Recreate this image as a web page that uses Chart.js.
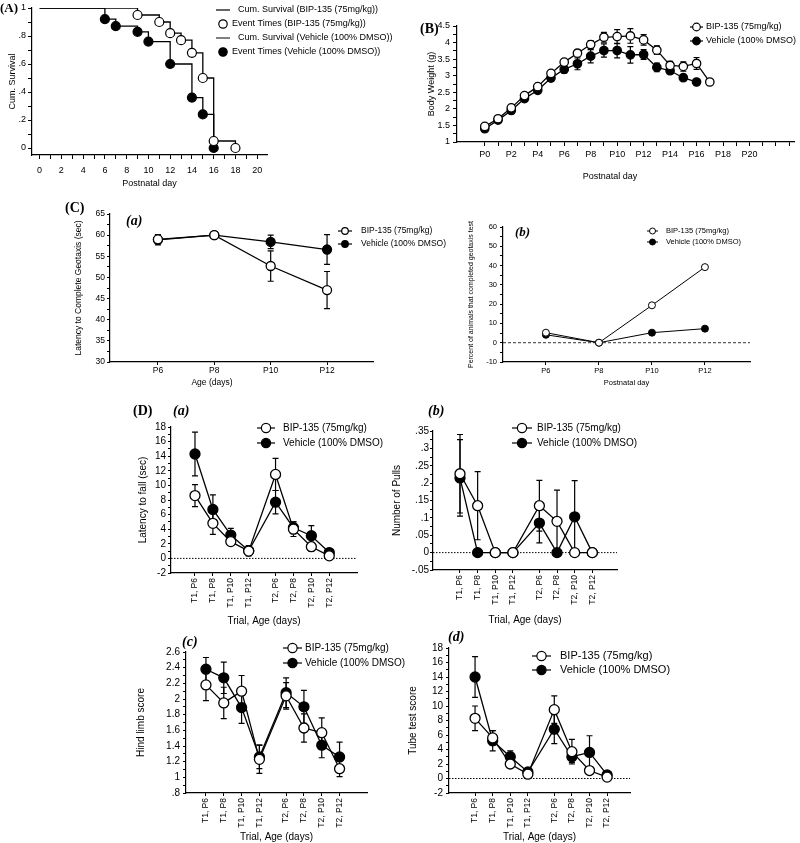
<!DOCTYPE html>
<html><head><meta charset="utf-8">
<script src="https://cdn.jsdelivr.net/npm/chart.js@4.4.1/dist/chart.umd.min.js"></script>
<style>
html,body{margin:0;padding:0;background:#fff;}
#wrap{position:relative;width:800px;height:843px;overflow:hidden;background:#fff;}
#wrap canvas{position:absolute;left:0;top:0;width:800px;height:843px;}
</style></head>
<body><div id="wrap">
<canvas id="cA" width="800" height="843"></canvas>
<canvas id="cB" width="800" height="843"></canvas>
<canvas id="cCa" width="800" height="843"></canvas>
<canvas id="cCb" width="800" height="843"></canvas>
<canvas id="cDa" width="800" height="843"></canvas>
<canvas id="cDb" width="800" height="843"></canvas>
<canvas id="cDc" width="800" height="843"></canvas>
<canvas id="cDd" width="800" height="843"></canvas>
</div>
<script>
// ---------------- DATA ----------------
const LBL_BIP = 'BIP-135 (75mg/kg)';
const LBL_VEH = 'Vehicle (100% DMSO)';

// (A) Kaplan-Meier survival
const kmBipDays = [0, 9, 11, 12, 13, 14, 15, 16, 18];
const kmBipSurv = [1, 0.95, 0.90, 0.82, 0.77, 0.68, 0.50, 0.05, 0];
const kmVehDays = [0, 6, 7, 9, 10, 12, 14, 15, 16];
const kmVehSurv = [1, 0.92, 0.87, 0.83, 0.76, 0.60, 0.36, 0.24, 0];

// (B) Body weight
const bwBipDays = [0, 1, 2, 3, 4, 5, 6, 7, 8, 9, 10, 11, 12, 13, 14, 15, 16, 17];
const bwBip     = [1.47, 1.70, 2.03, 2.40, 2.67, 3.07, 3.41, 3.68, 3.94, 4.16, 4.18, 4.20, 4.08, 3.77, 3.31, 3.28, 3.37, 2.81];
const bwBipErr  = [0.04, 0.04, 0.05, 0.05, 0.06, 0.07, 0.08, 0.10, 0.12, 0.15, 0.21, 0.22, 0.16, 0.13, 0.12, 0.14, 0.18, 0];
const bwVehDays = [0, 1, 2, 3, 4, 5, 6, 7, 8, 9, 10, 11, 12, 13, 14, 15, 16];
const bwVeh     = [1.40, 1.66, 1.95, 2.31, 2.56, 2.93, 3.19, 3.36, 3.59, 3.76, 3.76, 3.63, 3.64, 3.25, 3.15, 2.94, 2.81];
const bwVehErr  = [0.04, 0.05, 0.06, 0.07, 0.08, 0.09, 0.11, 0.18, 0.20, 0.20, 0.22, 0.25, 0.15, 0.13, 0.06, 0.07, 0.05];

// (C) Geotaxis
const geoDays   = [6, 8, 10, 12];
const geoBip    = [59.0, 60.0, 52.7, 47.0];
const geoBipErr = [1.0, 0, 3.6, 4.4];
const geoVeh    = [58.9, 60.0, 58.4, 56.6];
const geoVehErr = [1.2, 0, 1.6, 3.5];
const pctBip    = [5.2, 0, 19.4, 39.2];
const pctVeh    = [4.1, 0, 5.2, 7.3];

// (D) Trials
const dCats = ['T1, P6', 'T1, P8', 'T1, P10', 'T1, P12', 'T2, P6', 'T2, P8', 'T2, P10', 'T2, P12'];
const latBip     = [8.6, 4.8, 2.3, 1.0, 11.5, 4.0, 1.6, 0.35];
const latBipErr  = [1.5, 1.5, 0.5, 0.5, 2.2, 1.0, 0.6, 0.3];
const latVeh     = [14.3, 6.7, 3.2, 1.05, 7.7, 4.2, 3.1, 0.8];
const latVehErr  = [3.0, 2.0, 0.9, 0.7, 1.6, 0.8, 1.4, 0.3];
const pullBip    = [0.227, 0.135, 0, 0, 0.135, 0.09, 0, 0];
const pullBipErr = [0.113, 0.098, 0, 0, 0.073, 0.09, 0, 0];
const pullVeh    = [0.215, 0, 0, 0, 0.085, 0, 0.103, 0];
const pullVehErr = [0.11, 0, 0, 0, 0.057, 0, 0.104, 0];
const hindBip    = [2.18, 1.95, 2.10, 1.23, 2.04, 1.63, 1.57, 1.11];
const hindBipErr = [0.2, 0.2, 0.2, 0.18, 0.17, 0.18, 0.19, 0.1];
const hindVeh    = [2.38, 2.27, 1.89, 1.26, 2.08, 1.90, 1.41, 1.26];
const hindVehErr = [0.15, 0.2, 0.2, 0.15, 0.19, 0.21, 0.16, 0.19];
const tubeBip    = [8.3, 5.6, 2.0, 0.6, 9.5, 3.7, 1.1, 0.2];
const tubeBipErr = [1.7, 1.0, 0.4, 0.3, 1.9, 1.7, 0.4, 0.2];
const tubeVeh    = [14.0, 5.2, 3.0, 0.9, 6.8, 3.0, 3.6, 0.5];
const tubeVehErr = [2.8, 1.4, 0.8, 0.3, 2.0, 0.8, 2.3, 0.2];

// ---------------- HELPERS ----------------
Chart.defaults.font.family = "'Liberation Sans', Arial, sans-serif";
Chart.defaults.color = '#000';
const SERIF = "'Liberation Serif', 'Times New Roman', serif";

function range(a, b, s) { const out = []; const n = Math.round((b - a) / s); for (let k = 0; k <= n; k++) out.push(+(a + k * s).toFixed(6)); return out; }
function fmtDec(v) { let s = String(+(+v).toFixed(3)); return s.replace(/^0\./, '.').replace(/^-0\./, '-.'); }
// category positions: second trial block is shifted to leave a gap
const dPos = dCats.map((c, i) => i + (c.startsWith('T2') ? 0.5 : 0));
function pts(xs, ys) { return ys.map((y, i) => ({ x: xs[i], y })); }

const errorBarPlugin = {
  id: 'errbars',
  beforeDatasetsDraw(chart) {
    const ctx = chart.ctx, ys = chart.scales.y;
    chart.data.datasets.forEach((ds, di) => {
      if (!ds.errors) return;
      const meta = chart.getDatasetMeta(di);
      ctx.save(); ctx.strokeStyle = '#000'; ctx.lineWidth = ds.errWidth || 1.2;
      ds.data.forEach((p, i) => {
        const e = ds.errors[i]; if (!e) return;
        const px = meta.data[i].x, t = ys.getPixelForValue(p.y + e), b = ys.getPixelForValue(p.y - e), c = ds.capHalf || 3;
        ctx.beginPath();
        ctx.moveTo(px, t); ctx.lineTo(px, b);
        ctx.moveTo(px - c, t); ctx.lineTo(px + c, t);
        ctx.moveTo(px - c, b); ctx.lineTo(px + c, b);
        ctx.stroke();
      });
      ctx.restore();
    });
  }
};
const refLinePlugin = {
  id: 'refLine',
  beforeDatasetsDraw(chart, args, o) {
    if (!o || o.value == null) return;
    const ctx = chart.ctx, a = chart.chartArea, y = chart.scales.y.getPixelForValue(o.value);
    ctx.save(); ctx.strokeStyle = '#000'; ctx.lineWidth = o.lw || 1; ctx.setLineDash(o.dash || [2, 2]);
    ctx.beginPath(); ctx.moveTo(a.left, y); ctx.lineTo(a.right, y); ctx.stroke(); ctx.restore();
  }
};
const decorPlugin = {
  id: 'decor',
  afterDraw(chart, args, o) {
    const ctx = chart.ctx;
    ctx.save();
    (o.labels || []).forEach(l => {
      ctx.font = l.font; ctx.fillStyle = '#000'; ctx.textBaseline = 'middle'; ctx.textAlign = l.align || 'left';
      ctx.fillText(l.text, l.x, l.y);
    });
    (o.legend || []).forEach(it => {
      const ds = chart.data.datasets[it.ds];
      ctx.strokeStyle = '#000'; ctx.lineWidth = it.lw || 1.2; ctx.setLineDash([]);
      if (it.line) { ctx.beginPath(); ctx.moveTo(it.line[0], it.y); ctx.lineTo(it.line[1], it.y); ctx.stroke(); }
      if (it.mx != null) { ctx.beginPath(); ctx.arc(it.mx, it.y, it.r || 4, 0, Math.PI * 2); ctx.fillStyle = ds.pointBackgroundColor; ctx.fill(); ctx.stroke(); }
      ctx.fillStyle = '#000'; ctx.font = o.font; ctx.textAlign = 'left'; ctx.textBaseline = 'middle';
      ctx.fillText(ds.label, it.tx, it.y);
    });
    ctx.restore();
  }
};

function axis(o, isX) {
  return {
    type: 'linear', position: isX ? 'bottom' : 'left', min: o.min, max: o.max,
    afterBuildTicks: s => { s.ticks = o.ticks.map(v => ({ value: v })); },
    afterFit: s => { if (isX) s.height = o.size; else s.width = o.size; },
    ticks: { autoSkip: false, maxRotation: o.rot || 0, minRotation: o.rot || 0, padding: o.pad, color: '#000',
             font: { size: o.fs }, callback: (v, i) => o.fmt(v, i) },
    grid: { display: true, drawOnChartArea: false, drawTicks: true, tickLength: o.tl, tickColor: '#000', tickWidth: 1 },
    border: { display: true, color: '#000', width: 1.2 },
    title: { display: o.title != null, text: o.title || '', color: '#000', font: { size: o.tfs }, padding: { top: o.tpad || 0, bottom: o.tpad || 0 } }
  };
}
function makeChart(id, c) {
  const pad = { left: c.area.l - c.y.size, top: c.area.t, right: 800 - c.area.r, bottom: 843 - c.area.b - c.x.size };
  return new Chart(document.getElementById(id), {
    type: 'scatter',
    data: { datasets: c.datasets },
    options: {
      responsive: false, animation: false, devicePixelRatio: 1, events: [],
      layout: { padding: pad },
      plugins: { legend: { display: false }, tooltip: { enabled: false }, decor: c.decor, refLine: c.refLine || {} },
      scales: { x: axis(c.x, true), y: axis(c.y, false) }
    },
    plugins: [errorBarPlugin, refLinePlugin, decorPlugin]
  });
}
function series(label, data, errs, filled, r, lw, extra) {
  return Object.assign({ label, data, errors: errs, showLine: true, borderColor: '#000', borderWidth: lw,
    pointRadius: r, pointHoverRadius: r, pointBackgroundColor: filled ? '#000' : '#fff', pointBorderColor: '#000',
    pointBorderWidth: lw, capHalf: 3 }, extra || {});
}

// ---------------- (A) ----------------
makeChart('cA', {
  area: { l: 32, t: 8, r: 267, b: 155 },
  x: { min: -0.7, max: 20.9, ticks: range(0, 20, 1), fmt: v => (v % 2 === 0 ? String(v) : ''), fs: 9, tl: 4, pad: 6,
       title: 'Postnatal day', tfs: 9, size: 34 },
  y: { min: -0.05, max: 1, ticks: range(0, 1, 0.1), fmt: v => (Math.round(v * 10) % 2 === 0 ? fmtDec(v) : ''), fs: 9, tl: 4, pad: 2,
       title: 'Cum. Survival', tfs: 9, tpad: 7.5, size: 32 },
  datasets: [
    { label: 'Cum. Survival (BIP-135 (75mg/kg))', data: pts(kmBipDays, kmBipSurv), showLine: true, stepped: 'before',
      pointRadius: 0, borderColor: '#000', borderWidth: 1.3, order: 2, pointBackgroundColor: '#000' },
    { label: 'Event Times (BIP-135 (75mg/kg))', data: pts(kmBipDays, kmBipSurv).slice(1), showLine: false, pointRadius: 4.5,
      pointBackgroundColor: '#fff', pointBorderColor: '#000', pointBorderWidth: 1.2, order: 1 },
    { label: 'Cum. Survival (Vehicle (100% DMSO))', data: pts(kmVehDays, kmVehSurv), showLine: true, stepped: 'before',
      pointRadius: 0, borderColor: '#000', borderWidth: 1.3, order: 2, pointBackgroundColor: '#000' },
    { label: 'Event Times (Vehicle (100% DMSO))', data: pts(kmVehDays, kmVehSurv).slice(1), showLine: false, pointRadius: 4.5,
      pointBackgroundColor: '#000', pointBorderColor: '#000', pointBorderWidth: 1.2, order: 1 }
  ],
  decor: {
    font: "9px 'Liberation Sans', Arial, sans-serif",
    labels: [{ text: '(A)', x: 0, y: 9, font: "bold 13px " + SERIF }],
    legend: [
      { ds: 0, line: [216, 230], y: 10, tx: 238 },
      { ds: 1, mx: 223, r: 4.2, y: 24, tx: 232 },
      { ds: 2, line: [216, 230], y: 38, tx: 238, lw: 1 },
      { ds: 3, mx: 223, r: 4.2, y: 52, tx: 232 }
    ]
  }
});

// ---------------- (B) ----------------
makeChart('cB', {
  area: { l: 457, t: 26, r: 799, b: 142 },
  x: { min: -2.1, max: 23.4, ticks: range(0, 23, 1), fmt: v => (v % 2 === 0 && v <= 20 ? 'P' + v : ''), fs: 9, tl: 4, pad: 3,
       title: null, tfs: 9, size: 40 },
  y: { min: 1, max: 4.5, ticks: range(1, 4.5, 0.25), fmt: v => ((v * 2) % 1 === 0 ? String(v) : ''), fs: 9, tl: 4, pad: 3,
       title: 'Body Weight (g)', tfs: 9, size: 31 },
  datasets: [
    series(LBL_BIP, pts(bwBipDays, bwBip), bwBipErr, false, 4.2, 1.3),
    series(LBL_VEH, pts(bwVehDays, bwVeh), bwVehErr, true, 4.2, 1.3)
  ],
  decor: {
    font: "9px 'Liberation Sans', Arial, sans-serif",
    labels: [{ text: '(B)', x: 420, y: 29, font: "bold 14px " + SERIF },
             { text: 'Postnatal day', x: 610, y: 177, font: "9px 'Liberation Sans', Arial, sans-serif", align: 'center' }],
    legend: [
      { ds: 0, line: [690, 703], mx: 696.5, r: 3.8, y: 27, tx: 706 },
      { ds: 1, line: [690, 703], mx: 696.5, r: 3.8, y: 41, tx: 706 }
    ]
  }
});

// ---------------- (C)(a) ----------------
makeChart('cCa', {
  area: { l: 110, t: 214, r: 373, b: 362 },
  x: { min: 4.3, max: 13.63, ticks: geoDays, fmt: v => 'P' + v, fs: 8.5, tl: 3, pad: 1, title: null, tfs: 8.5, size: 26 },
  y: { min: 30, max: 65, ticks: range(30, 65, 2.5), fmt: v => (v % 5 === 0 ? String(v) : ''), fs: 8.5, tl: 3, pad: 2,
       title: 'Latency to Complete Geotaxis (sec)', tfs: 8.5, size: 36 },
  datasets: [
    series(LBL_BIP, pts(geoDays, geoBip), geoBipErr, false, 4.5, 1.3),
    series(LBL_VEH, pts(geoDays, geoVeh), geoVehErr, true, 4.5, 1.3)
  ],
  decor: {
    font: "8.5px 'Liberation Sans', Arial, sans-serif",
    labels: [{ text: '(C)', x: 65, y: 208, font: "bold 14px " + SERIF },
             { text: '(a)', x: 126, y: 221, font: "bold italic 14px " + SERIF },
             { text: 'Age (days)', x: 212, y: 383, font: "8.5px 'Liberation Sans', Arial, sans-serif", align: 'center' }],
    legend: [
      { ds: 0, line: [338, 352], mx: 345, r: 3.3, y: 231, tx: 361 },
      { ds: 1, line: [338, 352], mx: 345, r: 3.3, y: 244, tx: 361 }
    ]
  }
});

// ---------------- (C)(b) ----------------
makeChart('cCb', {
  area: { l: 503, t: 227, r: 750, b: 362 },
  x: { min: 4.38, max: 13.7, ticks: geoDays, fmt: v => 'P' + v, fs: 7.5, tl: 3, pad: 1.5, title: 'Postnatal day', tfs: 7.5, size: 25 },
  y: { min: -10, max: 60, ticks: range(-10, 60, 5), fmt: v => (v % 10 === 0 ? String(v) : ''), fs: 7.5, tl: 3, pad: 3,
       title: 'Percent of animals that completed geotaxis test', tfs: 7, size: 36 },
  datasets: [
    series(LBL_BIP, pts(geoDays, pctBip), null, false, 3.5, 1),
    series(LBL_VEH, pts(geoDays, pctVeh), null, true, 3.5, 1)
  ],
  refLine: { value: 0, dash: [3, 2], lw: 0.8 },
  decor: {
    font: "7.5px 'Liberation Sans', Arial, sans-serif",
    labels: [{ text: '(b)', x: 515, y: 233, font: "bold italic 13px " + SERIF }],
    legend: [
      { ds: 0, line: [647, 658], mx: 652.5, r: 3, y: 231, tx: 666, lw: 1 },
      { ds: 1, line: [647, 658], mx: 652.5, r: 3, y: 242, tx: 666, lw: 1 }
    ]
  }
});

// ---------------- (D) panels ----------------
const dLabelFmt = (v, i) => dCats[i];
const dFont = "10px 'Liberation Sans', Arial, sans-serif";

makeChart('cDa', {
  area: { l: 171, t: 427, r: 357, b: 573 },
  x: { min: -1.34, max: 9.05, ticks: dPos, fmt: dLabelFmt, fs: 8.5, tl: 3, pad: 2, rot: 90, title: 'Trial, Age (days)', tfs: 10, size: 54 },
  y: { min: -2, max: 18, ticks: range(-2, 18, 1), fmt: v => (v % 2 === 0 ? String(v) : ''), fs: 10, tl: 3, pad: 2,
       title: 'Latency to fall (sec)', tfs: 10, size: 34 },
  datasets: [
    series(LBL_BIP, pts(dPos, latBip), latBipErr, false, 5, 1.3),
    series(LBL_VEH, pts(dPos, latVeh), latVehErr, true, 5, 1.3)
  ],
  refLine: { value: 0, dash: [1.5, 1.5], lw: 1 },
  decor: {
    font: dFont,
    labels: [{ text: '(D)', x: 133, y: 411, font: "bold 14px " + SERIF },
             { text: '(a)', x: 173, y: 411, font: "bold italic 14px " + SERIF }],
    legend: [
      { ds: 0, line: [257, 275], mx: 266, r: 4.6, y: 428, tx: 283 },
      { ds: 1, line: [257, 275], mx: 266, r: 4.6, y: 443, tx: 283 }
    ]
  }
});

makeChart('cDb', {
  area: { l: 433, t: 431, r: 617, b: 570 },
  x: { min: -1.53, max: 8.9, ticks: dPos, fmt: dLabelFmt, fs: 8.5, tl: 3, pad: 2, rot: 90, title: 'Trial, Age (days)', tfs: 10, size: 56 },
  y: { min: -0.05, max: 0.35, ticks: range(-0.05, 0.35, 0.025), fmt: v => (Math.round(v * 1000) % 50 === 0 ? fmtDec(v) : ''),
       fs: 10, tl: 3, pad: 1, title: 'Number of Pulls', tfs: 10, size: 42 },
  datasets: [
    series(LBL_BIP, pts(dPos, pullBip), pullBipErr, false, 5, 1.3),
    series(LBL_VEH, pts(dPos, pullVeh), pullVehErr, true, 5, 1.3)
  ],
  refLine: { value: 0, dash: [1.5, 1.5], lw: 1 },
  decor: {
    font: dFont,
    labels: [{ text: '(b)', x: 428, y: 411, font: "bold italic 14px " + SERIF }],
    legend: [
      { ds: 0, line: [512, 532], mx: 522, r: 4.6, y: 428, tx: 537 },
      { ds: 1, line: [512, 532], mx: 522, r: 4.6, y: 443, tx: 537 }
    ]
  }
});

makeChart('cDc', {
  area: { l: 186, t: 652, r: 367, b: 793 },
  x: { min: -1.12, max: 9.04, ticks: dPos, fmt: dLabelFmt, fs: 8.5, tl: 3, pad: 2, rot: 90, title: 'Trial, Age (days)', tfs: 10, size: 50 },
  y: { min: 0.8, max: 2.6, ticks: range(0.8, 2.6, 0.1), fmt: v => (Math.round(v * 10) % 2 === 0 ? fmtDec(v) : ''),
       fs: 10, tl: 3, pad: 3, title: 'Hind limb score', tfs: 10, size: 51 },
  datasets: [
    series(LBL_BIP, pts(dPos, hindBip), hindBipErr, false, 5, 1.3),
    series(LBL_VEH, pts(dPos, hindVeh), hindVehErr, true, 5, 1.3)
  ],
  decor: {
    font: dFont,
    labels: [{ text: '(c)', x: 182, y: 642, font: "bold italic 14px " + SERIF }],
    legend: [
      { ds: 0, line: [283, 302], mx: 292.5, r: 4.6, y: 648, tx: 305 },
      { ds: 1, line: [283, 302], mx: 292.5, r: 4.6, y: 663, tx: 305 }
    ]
  }
});

makeChart('cDd', {
  area: { l: 449, t: 648, r: 630, b: 793 },
  x: { min: -1.48, max: 8.8, ticks: dPos, fmt: dLabelFmt, fs: 8.5, tl: 3, pad: 2, rot: 90, title: 'Trial, Age (days)', tfs: 10, size: 50 },
  y: { min: -2, max: 18, ticks: range(-2, 18, 1), fmt: v => (v % 2 === 0 ? String(v) : ''), fs: 10, tl: 3, pad: 3,
       title: 'Tube test score', tfs: 10, size: 42 },
  datasets: [
    series(LBL_BIP, pts(dPos, tubeBip), tubeBipErr, false, 5, 1.3),
    series(LBL_VEH, pts(dPos, tubeVeh), tubeVehErr, true, 5, 1.3)
  ],
  refLine: { value: 0, dash: [1.5, 1.5], lw: 1 },
  decor: {
    font: "11px 'Liberation Sans', Arial, sans-serif",
    labels: [{ text: '(d)', x: 448, y: 637, font: "bold italic 14px " + SERIF }],
    legend: [
      { ds: 0, line: [532, 551], mx: 541.5, r: 4.6, y: 656, tx: 560 },
      { ds: 1, line: [532, 551], mx: 541.5, r: 4.6, y: 670, tx: 560 }
    ]
  }
});
</script>
</body></html>
